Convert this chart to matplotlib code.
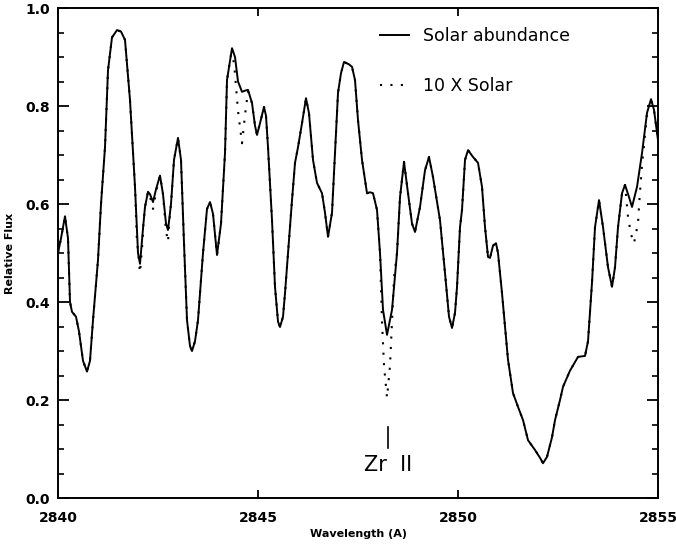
import numpy as np
import matplotlib
matplotlib.use("Agg")
import matplotlib.pyplot as plt

# solar abundance synthetic spectrum
wave = [2840.000, 2840.075, 2840.175, 2840.25, 2840.30, 2840.35, 2840.45, 2840.525,
        2840.625, 2840.725, 2840.80, 2840.875, 2841.00, 2841.075, 2841.175, 2841.25,
        2841.35, 2841.475, 2841.575, 2841.675, 2841.80, 2841.925, 2842.00, 2842.05,
        2842.125, 2842.175, 2842.25, 2842.30, 2842.375, 2842.45, 2842.55, 2842.625,
        2842.70, 2842.75, 2842.825, 2842.90, 2843.00, 2843.075, 2843.15, 2843.225,
        2843.30, 2843.35, 2843.425, 2843.50, 2843.625, 2843.725, 2843.80, 2843.875,
        2843.975, 2844.075, 2844.175, 2844.225, 2844.35, 2844.425, 2844.50, 2844.60,
        2844.70, 2844.75, 2844.85, 2844.925, 2844.975, 2845.05, 2845.15, 2845.20,
        2845.25, 2845.35, 2845.425, 2845.50, 2845.55, 2845.625, 2845.675, 2845.75,
        2845.85, 2845.925, 2846.00, 2846.10, 2846.20, 2846.275, 2846.375, 2846.475,
        2846.60, 2846.675, 2846.75, 2846.85, 2846.925, 2847.00, 2847.075, 2847.15,
        2847.275, 2847.35, 2847.425, 2847.50, 2847.60, 2847.725, 2847.80, 2847.875,
        2847.975, 2848.05, 2848.125, 2848.225, 2848.35, 2848.475, 2848.55, 2848.65,
        2848.75, 2848.85, 2848.925, 2849.05, 2849.175, 2849.275, 2849.375, 2849.55,
        2849.675, 2849.775, 2849.85, 2849.925, 2849.975, 2850.05, 2850.10, 2850.175,
        2850.25, 2850.375, 2850.50, 2850.60, 2850.675, 2850.75, 2850.80, 2850.875,
        2850.95, 2851.00, 2851.10, 2851.175, 2851.25, 2851.375, 2851.50, 2851.625,
        2851.75, 2851.925, 2852.05, 2852.125, 2852.225, 2852.35, 2852.425, 2852.55,
        2852.625, 2852.80, 2853.00, 2853.175, 2853.25, 2853.30, 2853.35, 2853.425,
        2853.525, 2853.625, 2853.75, 2853.85, 2853.925, 2854.00, 2854.10, 2854.175,
        2854.275, 2854.35, 2854.475, 2854.60, 2854.725, 2854.825, 2854.90, 2855.00]
flux = [0.50, 0.53, 0.575, 0.53, 0.40, 0.38, 0.37, 0.34,
        0.28, 0.258, 0.28, 0.363, 0.486, 0.60, 0.716, 0.873,
        0.94, 0.955, 0.952, 0.935, 0.812, 0.635, 0.50, 0.478,
        0.55, 0.594, 0.625, 0.62, 0.604, 0.63, 0.658, 0.62,
        0.56, 0.547, 0.60, 0.69, 0.735, 0.69, 0.52, 0.363,
        0.31, 0.30, 0.32, 0.363, 0.50, 0.59, 0.604, 0.58,
        0.496, 0.56, 0.704, 0.853, 0.918, 0.90, 0.85, 0.829,
        0.832, 0.833, 0.806, 0.76, 0.741, 0.765, 0.798, 0.78,
        0.716, 0.567, 0.431, 0.36, 0.349, 0.37, 0.418, 0.50,
        0.608, 0.684, 0.716, 0.765, 0.816, 0.785, 0.69, 0.643,
        0.622, 0.582, 0.533, 0.582, 0.704, 0.827, 0.867, 0.89,
        0.885, 0.88, 0.853, 0.771, 0.69, 0.622, 0.624, 0.622,
        0.588, 0.50, 0.384, 0.333, 0.384, 0.50, 0.614, 0.686,
        0.622, 0.56, 0.543, 0.594, 0.669, 0.696, 0.655, 0.567,
        0.459, 0.37, 0.347, 0.378, 0.431, 0.553, 0.588, 0.69,
        0.71, 0.696, 0.684, 0.635, 0.553, 0.492, 0.49, 0.515,
        0.52, 0.50, 0.418, 0.349, 0.282, 0.214, 0.186, 0.159,
        0.118, 0.098, 0.082, 0.071, 0.084, 0.124, 0.159, 0.20,
        0.227, 0.26, 0.288, 0.29, 0.32, 0.38, 0.44, 0.553,
        0.608, 0.553, 0.471, 0.431, 0.471, 0.553, 0.622, 0.639,
        0.614, 0.594, 0.635, 0.704, 0.786, 0.814, 0.792, 0.73]

# 10 x solar: same as solar except in these line cores
dip_wave = [[2841.97, 2842.05, 2842.12],
            [2842.30, 2842.375, 2842.45],
            [2842.70, 2842.75, 2842.80],
            [2844.42, 2844.50, 2844.60, 2844.68, 2844.75],
            [2848.05, 2848.10, 2848.15, 2848.225, 2848.30, 2848.35, 2848.40],
            [2854.175, 2854.25, 2854.33, 2854.40, 2854.50, 2854.53, 2854.60, 2854.65]]
dip_flux = [[0.53, 0.46, 0.53],
            [0.615, 0.59, 0.625],
            [0.545, 0.523, 0.58],
            [0.87, 0.79, 0.724, 0.785, 0.83],
            [0.50, 0.36, 0.27, 0.205, 0.27, 0.36, 0.45],
            [0.639, 0.573, 0.537, 0.52, 0.561, 0.602, 0.68, 0.72]]

wave = np.array(wave)
flux = np.array(flux)
keep = np.ones(len(wave), dtype=bool)
for dw in dip_wave:
    keep &= ~((wave >= dw[0]) & (wave <= dw[-1]))
wave10 = np.concatenate([wave[keep]] + [np.array(d) for d in dip_wave])
flux10 = np.concatenate([flux[keep]] + [np.array(d) for d in dip_flux])
order = np.argsort(wave10)
wave10, flux10 = wave10[order], flux10[order]

fig = plt.figure(figsize=(6.76, 5.46), dpi=100)
ax = fig.add_axes([0.0858, 0.0879, 0.8876, 0.8974])

ax.plot(wave10, flux10, color='black', lw=1.5, linestyle=(0, (1, 4)), label='10 X Solar')
ax.plot(wave, flux, color='black', lw=1.4, solid_joinstyle='round', label='Solar abundance')

ax.set_xlim(2840, 2855)
ax.set_ylim(0, 1.0)
ax.set_xticks([2840, 2845, 2850, 2855])
ax.set_yticks([0.0, 0.2, 0.4, 0.6, 0.8, 1.0])
ax.set_yticks(np.arange(0, 1.0001, 0.05), minor=True)
ax.set_yticklabels(['0.0', '0.2', '0.4', '0.6', '0.8', '1.0'])
ax.tick_params(axis='both', which='major', direction='in', top=True, right=True,
               labelsize=10, width=1.3)
ax.tick_params(axis='y', which='major', length=8, pad=6)
ax.tick_params(axis='x', which='major', length=6, pad=9)
ax.tick_params(axis='y', which='minor', direction='in', right=True, length=4, width=1.2)
for lab in ax.get_xticklabels() + ax.get_yticklabels():
    lab.set_fontweight('bold')
for sp in ax.spines.values():
    sp.set_linewidth(1.4)

ax.set_xlabel('Wavelength (A)', fontsize=8, fontweight='bold', labelpad=3)
ax.set_ylabel('Relative Flux', fontsize=8, fontweight='bold', labelpad=7)

# Zr II marker
ax.plot([2848.25, 2848.25], [0.102, 0.145], color='black', lw=1.2)
ax.text(2848.25, 0.068, 'Zr  II', ha='center', va='center', fontsize=15)

handles, labels = ax.get_legend_handles_labels()
ax.legend(handles[::-1], labels[::-1], loc='upper left', bbox_to_anchor=(0.537, 0.962),
          frameon=False, fontsize=12.5, handlelength=1.65, handletextpad=0.8,
          labelspacing=1.85, borderpad=0, borderaxespad=0)

plt.savefig('out.png', dpi=100)
